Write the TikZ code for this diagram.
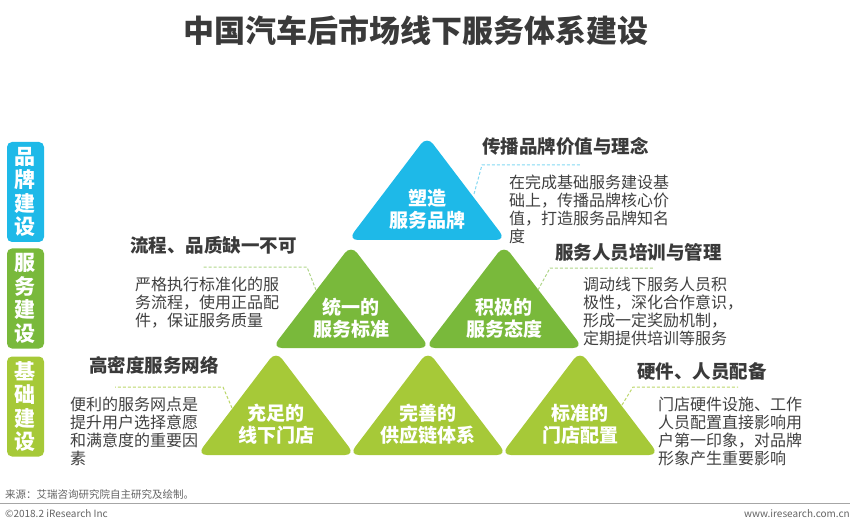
\documentclass[tikz,border=0pt]{standalone}
\usepackage{fontspec}
\setmainfont{Noto Sans CJK SC}
\usepackage{tikz}
\usetikzlibrary{positioning}
\definecolor{brandblue}{RGB}{30,185,232}
\definecolor{servgreen}{RGB}{121,185,59}
\definecolor{basegreen}{RGB}{166,201,56}
\definecolor{headgray}{RGB}{58,58,58}
\definecolor{bodygray}{RGB}{64,64,64}
\definecolor{footgray}{RGB}{100,100,100}

\begin{document}
\begin{tikzpicture}[
  x=1pt, y=-1pt,
  tri/.style={rounded corners=10pt},
  tritext/.style={text=white, font=\bfseries\fontsize{19}{22}\selectfont,
                  align=center, inner sep=0pt},
  sidebox/.style={rectangle, rounded corners=5pt, minimum width=37pt,
                  minimum height=100pt, inner sep=0pt, text=white, align=center,
                  font=\bfseries\fontsize{21}{23.5}\selectfont},
  heading/.style={anchor=west, inner sep=0pt, text=headgray,
                  font=\bfseries\fontsize{18.5}{22}\selectfont},
  desc/.style={anchor=north west, inner sep=0pt, align=left, text=bodygray,
               font=\fontsize{16}{18}\selectfont},
  callout/.style={line width=1pt, dash pattern=on 3pt off 2pt}
]
\useasboundingbox (0,0) rectangle (855,524);

% title
\node[text=headgray, font=\bfseries\fontsize{31}{36}\selectfont] (title) at (416,31)
  {中国汽车后市场线下服务体系建设};

% side labels
\node[sidebox, fill=brandblue] (brandside) at (25.5,192) {品\\牌\\建\\设};
\node[sidebox, fill=servgreen] (servside) at (25.5,298.5) {服\\务\\建\\设};
\node[sidebox, fill=basegreen] (baseside) at (25.5,406.5) {基\\础\\建\\设};

% triangles
\fill[tri, brandblue] (427,136) -- (506,240) -- (348,240) -- cycle;
\node[tritext] (brand) at (427,209) {塑造\\服务品牌};

\fill[tri, servgreen] (351,245) -- (430,348) -- (272,348) -- cycle;
\node[tritext] (standard) at (351,318) {统一的\\服务标准};

\fill[tri, servgreen] (504,245) -- (583,348) -- (425,348) -- cycle;
\node[tritext] (attitude) at (504,318) {积极的\\服务态度};

\fill[tri, basegreen] (276,351) -- (355,455) -- (197,455) -- cycle;
\node[tritext] (stores) at (276,424) {充足的\\线下门店};

\fill[tri, basegreen] (428,351) -- (507,455) -- (349,455) -- cycle;
\node[tritext] (supply) at (428,424) {完善的\\供应链体系};

\fill[tri, basegreen] (580,351) -- (659,455) -- (501,455) -- cycle;
\node[tritext] (config) at (580,424) {标准的\\门店配置};

% headings
\node[heading] (brandhead) at (482,146) {传播品牌价值与理念};
\node[heading] (standardhead) at (130,245) {流程、品质缺一不可};
\node[heading] (attitudehead) at (555,252) {服务人员培训与管理};
\node[heading] (storeshead) at (89,365) {高密度服务网络};
\node[heading] (confighead) at (637,372) {硬件、人员配备};

% descriptions
\node[desc] (branddesc) at (509,175)
  {在完成基础服务建设基\\础上，传播品牌核心价\\值，打造服务品牌知名\\度};
\node[desc] (standarddesc) at (135,277)
  {严格执行标准化的服\\务流程，使用正品配\\件，保证服务质量};
\node[desc] (attitudedesc) at (583,277)
  {调动线下服务人员积\\极性，深化合作意识，\\形成一定奖励机制，\\定期提供培训等服务};
\node[desc] (storesdesc) at (70,397)
  {便利的服务网点是\\提升用户选择意愿\\和满意度的重要因\\素};
\node[desc] (configdesc) at (658,397)
  {门店硬件设施、工作\\人员配置直接影响用\\户第一印象，对品牌\\形象产生重要影响};

% callouts
\coordinate (brandtip) at (474,194);
\coordinate (brandbend) at (482,165);
\coordinate (brandend) at (580,165);
\draw[callout, brandblue!55] (brandtip) -- (brandbend) -- (brandend);

\coordinate (standardtip) at (316,290);
\coordinate (standardbend) at (307,267);
\coordinate (standardend) at (202,267);
\draw[callout, servgreen!60] (standardtip) -- (standardbend) -- (standardend);

\coordinate (attitudetip) at (538,290);
\coordinate (attitudebend) at (550,268);
\coordinate (attitudeend) at (653,268);
\draw[callout, servgreen!60] (attitudetip) -- (attitudebend) -- (attitudeend);

\coordinate (storestip) at (232,408);
\coordinate (storesbend) at (223,387);
\coordinate (storesend) at (115,387);
\draw[callout, basegreen!75] (storestip) -- (storesbend) -- (storesend);

\coordinate (configtip) at (622,405);
\coordinate (configbend) at (633,387);
\coordinate (configend) at (738,387);
\draw[callout, basegreen!75] (configtip) -- (configbend) -- (configend);

% footer
\node[anchor=west, inner sep=0pt, text=footgray, font=\fontsize{10.5}{12}\selectfont]
  (source) at (5,495) {来源：艾瑞咨询研究院自主研究及绘制。};
\coordinate (ruleleft) at (0,503);
\coordinate (ruleright) at (850,503);
\draw[gray!70, line width=0.8pt] (ruleleft) -- (ruleright);
\node[anchor=west, inner sep=0pt, text=footgray, font=\fontsize{10}{12}\selectfont]
  (copyright) at (5,514) {©2018.2 iResearch Inc};
\node[anchor=east, inner sep=0pt, text=footgray, font=\fontsize{10}{12}\selectfont]
  (website) at (850,514) {www.iresearch.com.cn};
\end{tikzpicture}
\end{document}
